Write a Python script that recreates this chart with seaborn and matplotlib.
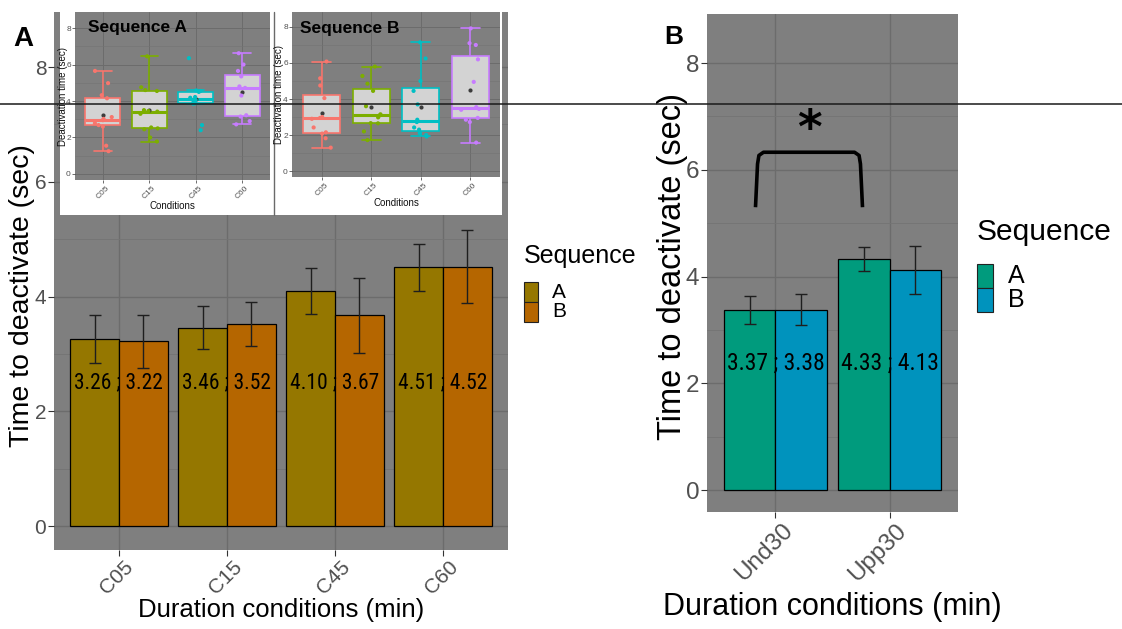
import numpy as np
import pandas as pd
import matplotlib
matplotlib.use("Agg")
import matplotlib.pyplot as plt
from matplotlib import font_manager as fm
from matplotlib.patches import Rectangle
from matplotlib.lines import Line2D
from matplotlib.transforms import ScaledTranslation
import seaborn as sns

# ---------------- data ----------------
conditions_a = ["C05", "C15", "C45", "C60"]
mean_a_seqA = [3.26, 3.46, 4.10, 4.51]
mean_a_seqB = [3.22, 3.52, 3.67, 4.52]
err_a_seqA = [0.42, 0.37, 0.40, 0.41]
err_a_seqB = [0.46, 0.38, 0.65, 0.64]

conditions_b = ["Und30", "Upp30"]
mean_b_seqA = [3.37, 4.33]
mean_b_seqB = [3.38, 4.13]
err_b_seqA = [0.26, 0.23]
err_b_seqB = [0.29, 0.45]

sequences = ["A", "B"]

# individual deactivation times per condition (sec)
times_seqA_c05 = [5.65, 4.98, 4.32, 4.15, 3.12, 3.02, 2.95, 2.78, 2.68, 2.60, 1.55, 1.25]
times_seqA_c15 = [6.45, 4.75, 4.60, 4.55, 3.50, 3.45, 3.42, 3.30, 2.55, 2.50, 2.45, 2.00, 1.78]
times_seqA_c45 = [6.35, 4.58, 4.55, 4.50, 4.22, 4.18, 4.05, 3.92, 3.88, 3.85, 2.68, 2.40]
times_seqA_c60 = [6.62, 6.00, 5.65, 5.35, 4.80, 4.72, 4.70, 4.30, 3.22, 3.15, 2.90, 2.72]

times_seqB_c05 = [6.08, 5.15, 4.75, 4.05, 3.00, 2.95, 2.90, 2.42, 2.15, 2.08, 1.82, 1.30]
times_seqB_c15 = [5.80, 5.28, 4.85, 4.45, 3.60, 3.15, 3.10, 2.98, 2.66, 2.65, 2.20, 1.72]
times_seqB_c45 = [7.15, 6.25, 5.00, 4.45, 3.70, 2.85, 2.72, 2.42, 2.30, 2.10, 2.00, 1.92]
times_seqB_c60 = [7.92, 7.10, 7.00, 6.20, 4.95, 3.55, 3.45, 3.40, 2.95, 2.85, 2.72, 1.58]

# ---------------- style ----------------
W, H = 1122, 629
BG = "#7F7F7F"
GRID_MAJOR = "#6C6C6C"
GRID_MINOR = "#747474"
TICK_COL = "#505050"
pal_a = {"A": "#957700", "B": "#B56600"}
pal_b = {"A": "#009B7D", "B": "#0093BD"}
hue_cols = ["#F8766D", "#7CAE00", "#00BFC4", "#C77CFF"]

sns.set_theme(style="white")
plt.rcParams["font.family"] = ["Liberation Sans", "DejaVu Sans"]

# condensed face for the value labels, if one is installed
_installed = {f.name for f in fm.fontManager.ttflist}
_narrow = next((n for n in ["Liberation Sans Narrow", "DejaVu Sans Condensed",
                            "Roboto Condensed", "Open Sans Condensed"]
                if n in _installed), None)
if _narrow:
    VAL_FAMILY, VAL_SCALE = [_narrow, "DejaVu Sans"], 1.0
else:
    VAL_FAMILY, VAL_SCALE = ["Liberation Sans", "DejaVu Sans"], 0.84

fig = plt.figure(figsize=(W / 100, H / 100), dpi=100)
fig.patch.set_facecolor("white")


def frect(x0, y0, x1, y1):
    return [x0 / W, 1 - y1 / H, (x1 - x0) / W, (y1 - y0) / H]


def style_panel(ax, xlim, ylim, tick_size, tick_len=4.0):
    ax.set_facecolor(BG)
    for s in ax.spines.values():
        s.set_visible(False)
    ax.set_xlim(xlim)
    ax.set_ylim(ylim)
    ax.set_yticks([0, 2, 4, 6, 8])
    ax.set_yticks([1, 3, 5, 7], minor=True)
    ax.set_axisbelow(True)
    ax.grid(False)
    ax.yaxis.grid(True, which="major", color=GRID_MAJOR, lw=1.0)
    ax.yaxis.grid(True, which="minor", color=GRID_MINOR, lw=0.6)
    ax.xaxis.grid(True, which="major", color=GRID_MAJOR, lw=1.0)
    ax.tick_params(which="major", length=tick_len, width=0.8, color="#333333",
                   direction="out", pad=1.5, labelsize=tick_size, labelcolor=TICK_COL,
                   left=True, bottom=True)
    ax.tick_params(which="minor", length=0)


def rotate_xticklabels(ax, dx_px):
    off = ScaledTranslation(dx_px / 100, 0, fig.dpi_scale_trans)
    for lab in ax.get_xticklabels():
        lab.set_rotation(45)
        lab.set_ha("right")
        lab.set_va("top")
        lab.set_rotation_mode("anchor")
        lab.set_transform(lab.get_transform() + off)


def bar_panel(ax, cats, mA, mB, eA, eB, pal, label_y, label_size):
    df = pd.DataFrame({
        "Condition": cats + cats,
        "Sequence": ["A"] * len(cats) + ["B"] * len(cats),
        "Time": mA + mB,
    })
    sns.barplot(data=df, x="Condition", y="Time", hue="Sequence", hue_order=sequences,
                order=cats, palette=pal, width=0.9, saturation=1, errorbar=None,
                edgecolor="black", linewidth=0.9, legend=False, ax=ax)
    for cont, err in zip(ax.containers, [eA, eB]):
        xs = [b.get_x() + b.get_width() / 2 for b in cont]
        ys = [b.get_height() for b in cont]
        ax.errorbar(xs, ys, yerr=err, fmt="none", ecolor="#1E1E1E", elinewidth=1.0,
                    capsize=4.0, capthick=1.0, zorder=4)
    for i, (a, b) in enumerate(zip(mA, mB)):
        ax.text(i, label_y, f"{a:.2f} ; {b:.2f}", ha="center", va="center",
                fontsize=label_size * VAL_SCALE, family=VAL_FAMILY, color="black",
                zorder=5)


# ---------------- panel A ----------------
axA = fig.add_axes(frect(54, 12, 508, 550))
bar_panel(axA, conditions_a, mean_a_seqA, mean_a_seqB, err_a_seqA, err_a_seqB,
          pal_a, 2.5, 15.5)
style_panel(axA, (-0.6, 3.6), (-0.418, 8.96), 15)
axA.set_xlabel("Duration conditions (min)", fontsize=18.5, color="black")
axA.xaxis.set_label_coords(0.5, -(610 - 550) / 538)
axA.xaxis.label.set_va("center")
axA.set_ylabel("Time to deactivate (sec)", fontsize=20.5, color="black")
axA.yaxis.set_label_coords(-(54 - 22) / 454, (550 - 296) / 538)
axA.yaxis.label.set_va("center")
rotate_xticklabels(axA, 5)

# ---------------- panel B ----------------
axB = fig.add_axes(frect(707, 14, 958, 512))
bar_panel(axB, conditions_b, mean_b_seqA, mean_b_seqB, err_b_seqA, err_b_seqB,
          pal_b, 2.38, 17)
style_panel(axB, (-0.6, 1.6), (-0.41, 8.92), 17.5)
axB.set_xlabel("Duration conditions (min)", fontsize=22, color="black")
axB.xaxis.set_label_coords(0.5, -(607 - 512) / 498)
axB.xaxis.label.set_va("center")
axB.set_ylabel("Time to deactivate (sec)", fontsize=23.5, color="black")
axB.yaxis.set_label_coords(-(707 - 672) / 251, (512 - 267) / 498)
axB.yaxis.label.set_va("center")
rotate_xticklabels(axB, 6)

# significance bracket between the two sequence-A bars
bx0, bx1, by_top, by_bot = -0.175, 0.763, 6.33, 5.30
axB.plot([bx0, bx0 + 0.018, bx0 + 0.03, bx0 + 0.07, bx1 - 0.07, bx1 - 0.03,
          bx1 - 0.018, bx1],
         [by_bot, by_top - 0.22, by_top - 0.06, by_top, by_top, by_top - 0.06,
          by_top - 0.22, by_bot],
         color="black", lw=2.6, solid_capstyle="butt", solid_joinstyle="round", zorder=6)
axB.text((bx0 + bx1) / 2, 6.50, "*", ha="center", va="baseline", fontsize=34,
         fontweight="bold", family=["DejaVu Sans"], color="black", zorder=6)


# ---------------- legends ----------------
def draw_legend(x, title_y, key_top, key_w, key_h, label_x, pal, title_size, label_size):
    fig.text(x / W, 1 - title_y / H, "Sequence", fontsize=title_size, ha="left",
             va="center", color="black")
    for k, s in enumerate(sequences):
        y0 = key_top + k * key_h
        fig.patches.append(Rectangle((x / W, 1 - (y0 + key_h) / H), key_w / W, key_h / H,
                                     transform=fig.transFigure, facecolor=pal[s],
                                     edgecolor="#222222", lw=0.8))
        fig.text(label_x / W, 1 - (y0 + key_h / 2) / H, s, fontsize=label_size,
                 ha="left", va="center", color="black")


draw_legend(524, 256, 282, 14, 20, 552, pal_a, 18, 15)
draw_legend(977, 232, 264, 16, 24, 1008, pal_b, 21.5, 18)

# ---------------- inset boxplots ----------------
fig.patches.append(Rectangle((60 / W, 1 - 215 / H), (502 - 60) / W, (215 - 12) / H,
                             transform=fig.transFigure, facecolor="white",
                             edgecolor="none", zorder=1))
fig.add_artist(Line2D([273.5 / W, 273.5 / W], [1 - 215 / H, 1 - 12 / H],
                      color="#6A6A6A", lw=1.0, zorder=1.5))


def inset(rect_px, ylim, lists, title, title_xy, ylab_x):
    ax = fig.add_axes(frect(*rect_px), zorder=3)
    rows = []
    for c, vals in zip(conditions_a, lists):
        rows += [(c, v) for v in vals]
    df = pd.DataFrame(rows, columns=["Condition", "Time"])
    for i, c in enumerate(conditions_a):
        sns.boxplot(data=df[df["Condition"] == c], x="Condition", y="Time",
                    order=conditions_a, color="#D3D3D3", linecolor=hue_cols[i],
                    linewidth=1.2, width=0.75, saturation=1, showfliers=False,
                    showmeans=True,
                    meanprops=dict(marker="o", markerfacecolor="#3C3C3C",
                                   markeredgecolor="none", markersize=3),
                    medianprops=dict(linewidth=2.2), ax=ax)
    sns.stripplot(data=df, x="Condition", y="Time", hue="Condition", order=conditions_a,
                  hue_order=conditions_a, palette=hue_cols, size=3, jitter=0.2,
                  legend=False, ax=ax, zorder=4)
    style_panel(ax, (-0.6, 3.6), ylim, 6, tick_len=2.0)
    ax.xaxis.grid(True, which="major", color=GRID_MAJOR, lw=0.7)
    ax.yaxis.grid(True, which="major", color=GRID_MAJOR, lw=0.7)
    ax.yaxis.grid(True, which="minor", color=GRID_MINOR, lw=0.4)
    ax.tick_params(which="major", pad=1, width=0.5)
    ax.set_xlabel("Conditions", fontsize=7, color="#111111", labelpad=1)
    ax.set_ylabel("Deactivation time (sec)", fontsize=7, color="#111111")
    ax.yaxis.set_label_coords(ylab_x, 0.5)
    ax.yaxis.label.set_va("center")
    rotate_xticklabels(ax, 3)
    ax.text(title_xy[0], title_xy[1], title, transform=ax.transAxes, ha="left",
            va="center", fontsize=12.5, fontweight="bold", color="black")
    return ax


np.random.seed(7)
inset((75, 12, 270, 180), (-0.33, 8.88),
      [times_seqA_c05, times_seqA_c15, times_seqA_c45, times_seqA_c60],
      "Sequence A", (0.065, 0.905), -(75 - 63) / 195)
inset((292, 12, 500, 177), (-0.33, 8.83),
      [times_seqB_c05, times_seqB_c15, times_seqB_c45, times_seqB_c60],
      "Sequence B", (0.04, 0.90), -(292 - 279) / 208)

# ---------------- panel tags and rule ----------------
fig.text(23 / W, 1 - 39 / H, "A", fontsize=20, fontweight="bold", ha="center",
         va="center", color="black")
fig.text(674 / W, 1 - 37 / H, "B", fontsize=19, fontweight="bold", ha="center",
         va="center", color="black")
fig.add_artist(Line2D([0, 1], [1 - 103.5 / H, 1 - 103.5 / H], color="#1A1A1A",
                      lw=1.1, zorder=10))

fig.savefig("out.png", dpi=100, facecolor="white")
